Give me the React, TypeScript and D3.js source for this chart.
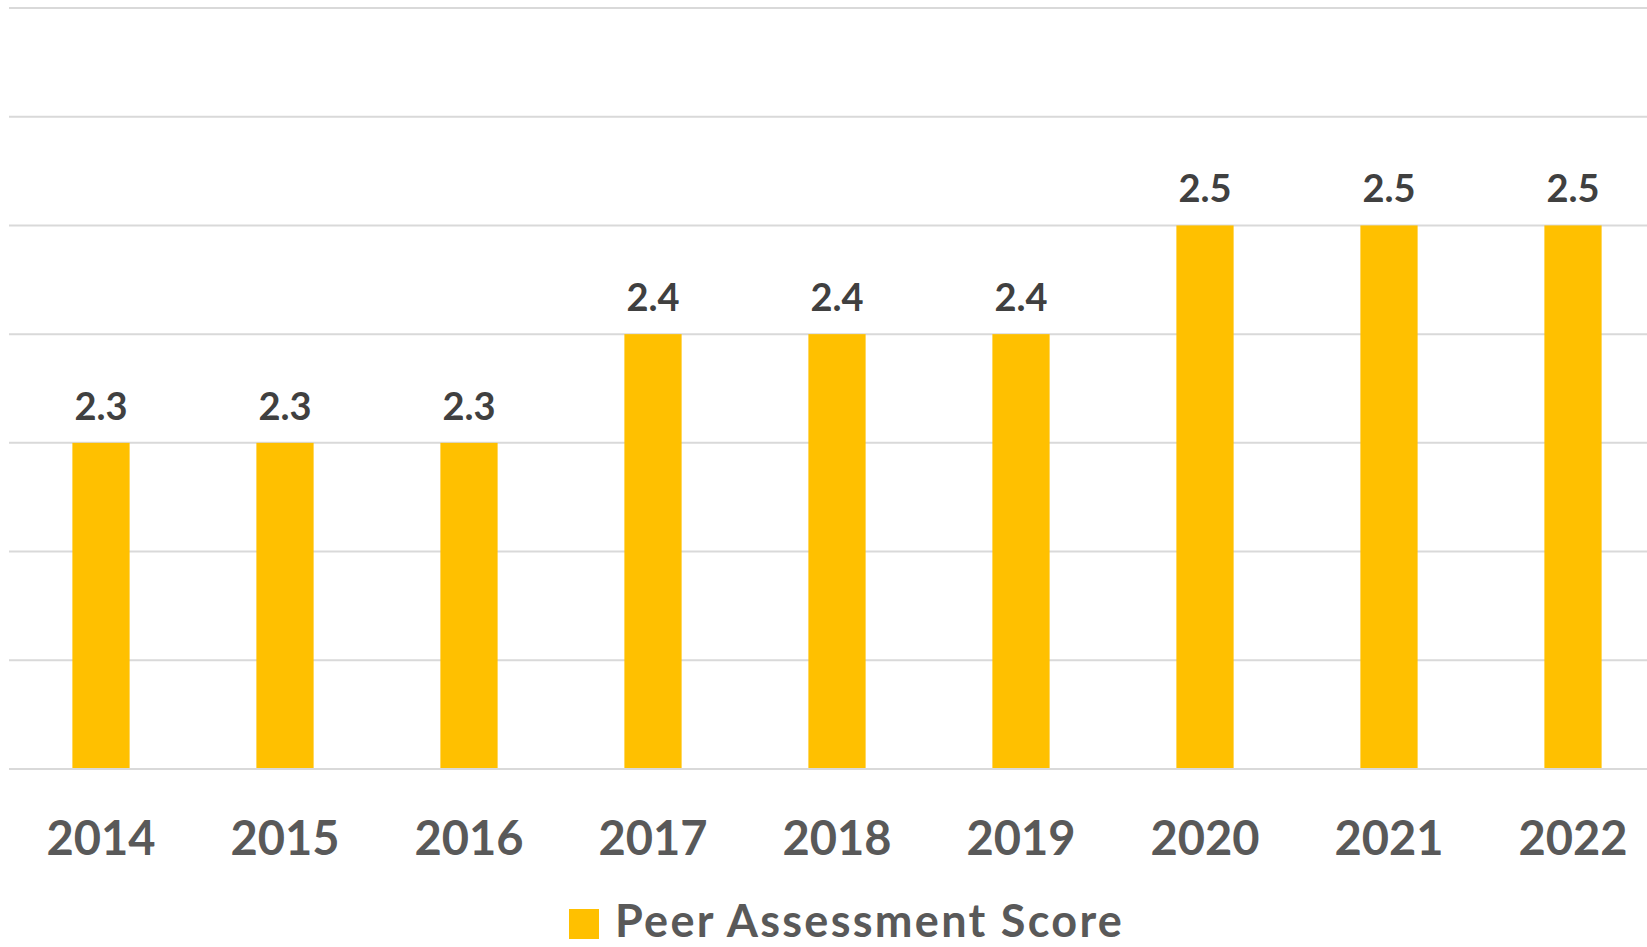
import React, { useEffect, useRef } from "react";
import * as d3 from "d3";

const years = ["2014", "2015", "2016", "2017", "2018", "2019", "2020", "2021", "2022"];
const scores = [2.3, 2.3, 2.3, 2.4, 2.4, 2.4, 2.5, 2.5, 2.5];
const yTicks = [2.0, 2.1, 2.2, 2.3, 2.4, 2.5, 2.6, 2.7];
const seriesName = "Peer Assessment Score";

const App = () => {
  const svgRef = useRef<SVGSVGElement>(null);

  useEffect(() => {
    const width = 1647, height = 947;
    const font = "Lato, 'Open Sans', sans-serif";

    const svg = d3.select(svgRef.current)
      .attr("width", width)
      .attr("height", height)
      .style("background", "#ffffff");
    svg.selectAll("*").remove();

    const x = d3.scaleBand<string>()
      .domain(years)
      .range([9, 1665])
      .paddingInner(0.689)
      .paddingOuter(0.3445);

    const y = d3.scaleLinear()
      .domain([2.0, 2.7])
      .range([769, 8]);

    // gridlines
    svg.append("g")
      .selectAll("line")
      .data(yTicks)
      .enter().append("line")
      .attr("x1", 9)
      .attr("x2", width)
      .attr("y1", d => y(d))
      .attr("y2", d => y(d))
      .attr("stroke", "#d9d9d9")
      .attr("stroke-width", 2);

    const rows = years.map((yr, i) => ({ yr, v: scores[i] }));

    svg.append("g")
      .selectAll("rect")
      .data(rows)
      .enter().append("rect")
      .attr("x", d => x(d.yr)!)
      .attr("y", d => y(d.v))
      .attr("width", x.bandwidth())
      .attr("height", d => y(2.0) - y(d.v) - 1)
      .attr("fill", "#ffc000");

    // value labels
    svg.append("g")
      .selectAll("text")
      .data(rows)
      .enter().append("text")
      .attr("x", d => x(d.yr)! + x.bandwidth() / 2)
      .attr("y", d => y(d.v) - 23)
      .attr("text-anchor", "middle")
      .attr("font-family", font)
      .attr("font-weight", "bold")
      .attr("font-size", "38px")
      .attr("fill", "#404040")
      .text(d => d.v.toFixed(1));

    // category labels
    svg.append("g")
      .selectAll("text")
      .data(years)
      .enter().append("text")
      .attr("x", d => x(d)! + x.bandwidth() / 2)
      .attr("y", 855)
      .attr("text-anchor", "middle")
      .attr("font-family", font)
      .attr("font-weight", "bold")
      .attr("font-size", "47px")
      .attr("fill", "#595959")
      .text(d => d);

    // legend
    const legend = svg.append("g");
    legend.append("rect")
      .attr("x", 569)
      .attr("y", 909)
      .attr("width", 30)
      .attr("height", 30)
      .attr("fill", "#ffc000");
    legend.append("text")
      .attr("x", 615)
      .attr("y", 937)
      .attr("font-family", font)
      .attr("font-weight", "bold")
      .attr("font-size", "45px")
      .attr("letter-spacing", "2.3px")
      .attr("fill", "#595959")
      .text(seriesName);
  }, []);

  return (
    <svg
      ref={svgRef}
      style={{ position: "absolute", left: 0, top: 0, display: "block" }}
    ></svg>
  );
};

export default App;
